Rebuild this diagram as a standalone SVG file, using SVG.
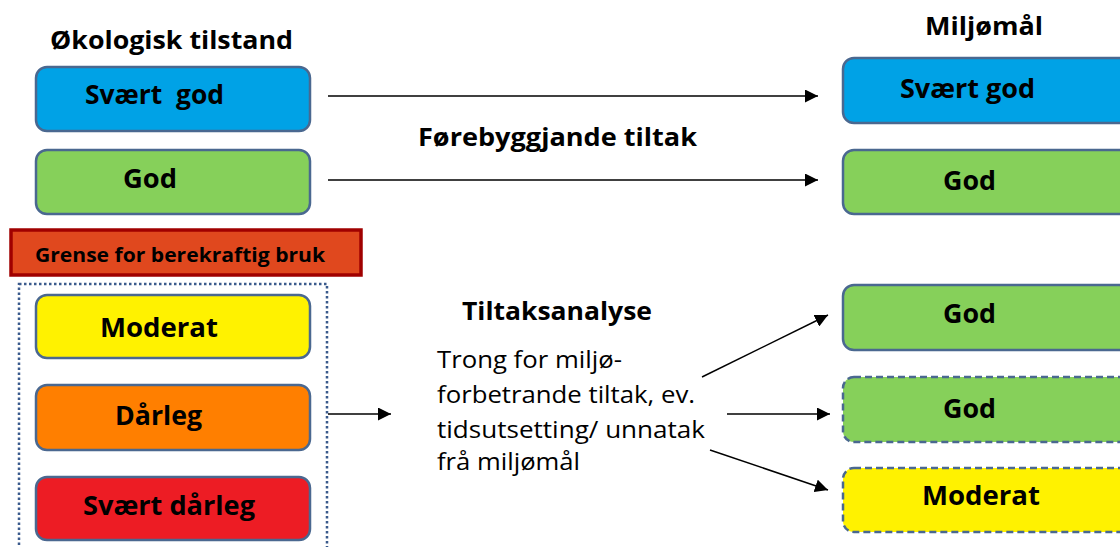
<svg xmlns="http://www.w3.org/2000/svg" width="1120" height="547" viewBox="0 0 1120 547">
<defs>
<style>
.box{stroke:#4a6890;stroke-width:2.5}
.dash{stroke-dasharray:7 4}
.blue{fill:#00a2e6}
.green{fill:#86d05a}
.yellow{fill:#fff200}
.orange{fill:#ff7f00}
.red{fill:#ed1c24}
.t{font-family:"Open Sans","Liberation Sans",sans-serif;font-weight:bold;font-size:27px;fill:#000}
.h{font-family:"Open Sans","Liberation Sans",sans-serif;font-weight:bold;font-size:25px;fill:#000}
.r{font-family:"Open Sans","Liberation Sans",sans-serif;font-size:24px;fill:#000}
.c{stroke:#000;stroke-width:1.5;fill:none;marker-end:url(#ah)}
</style>
<marker id="ah" viewBox="0 0 10 10" refX="10" refY="5" markerWidth="13" markerHeight="13" markerUnits="userSpaceOnUse" orient="auto">
<path d="M0,0 L10,5 L0,10 z" fill="#000"/>
</marker>
</defs>
<rect width="1120" height="547" fill="#fff"/>

<g id="headings">
<text class="h" x="50" y="49" textLength="243" lengthAdjust="spacingAndGlyphs">Økologisk tilstand</text>
<text class="h" x="925" y="35" textLength="118" lengthAdjust="spacingAndGlyphs">Miljømål</text>
<text class="h" x="418" y="146" textLength="279" lengthAdjust="spacingAndGlyphs">Førebyggjande tiltak</text>
</g>

<g id="left-svaert-god">
<rect class="box blue" x="36" y="67" width="274" height="64" rx="11"/>
<text class="t" x="85" y="104" textLength="139" lengthAdjust="spacingAndGlyphs" xml:space="preserve">Svært  god</text>
</g>
<g id="left-god">
<rect class="box green" x="36" y="150" width="274" height="64" rx="11"/>
<text class="t" x="123" y="188" textLength="54" lengthAdjust="spacingAndGlyphs">God</text>
</g>
<g id="grense">
<rect x="11" y="230" width="350" height="45" fill="#e0481e" stroke="#a00000" stroke-width="3.5"/>
<text x="35" y="262" font-family="Open Sans, Liberation Sans, sans-serif" font-weight="bold" font-size="20" textLength="290" lengthAdjust="spacingAndGlyphs">Grense for berekraftig bruk</text>
</g>
<g id="dotted-group">
<rect x="19" y="284" width="308" height="280" fill="none" stroke="#3a5a8c" stroke-width="2.5" stroke-dasharray="2.5 2.5"/>
</g>
<g id="left-moderat">
<rect class="box yellow" x="36" y="295" width="274" height="63" rx="11"/>
<text class="t" x="100" y="337" textLength="118" lengthAdjust="spacingAndGlyphs">Moderat</text>
</g>
<g id="left-darleg">
<rect class="box orange" x="36" y="385" width="274" height="65" rx="11"/>
<text class="t" x="115" y="425" textLength="87" lengthAdjust="spacingAndGlyphs">Dårleg</text>
</g>
<g id="left-svaert-darleg">
<rect class="box red" x="36" y="477" width="274" height="63" rx="11"/>
<text class="t" x="83" y="515" textLength="172" lengthAdjust="spacingAndGlyphs">Svært dårleg</text>
</g>

<g id="tiltaksanalyse">
<text class="h" x="462" y="320" textLength="190" lengthAdjust="spacingAndGlyphs">Tiltaksanalyse</text>
<text class="r" x="437" y="368" textLength="185" lengthAdjust="spacingAndGlyphs">Trong for miljø-</text>
<text class="r" x="437" y="403" textLength="258" lengthAdjust="spacingAndGlyphs">forbetrande tiltak, ev.</text>
<text class="r" x="437" y="438" textLength="268" lengthAdjust="spacingAndGlyphs">tidsutsetting/ unnatak</text>
<text class="r" x="437" y="470" textLength="143" lengthAdjust="spacingAndGlyphs">frå miljømål</text>
</g>

<g id="right-svaert-god">
<rect class="box blue" x="843" y="58" width="300" height="65" rx="11"/>
<text class="t" x="900" y="98" textLength="135" lengthAdjust="spacingAndGlyphs">Svært god</text>
</g>
<g id="right-god">
<rect class="box green" x="843" y="150" width="300" height="64" rx="11"/>
<text class="t" x="943" y="190" textLength="53" lengthAdjust="spacingAndGlyphs">God</text>
</g>
<g id="right-god-2">
<rect class="box green" x="843" y="285" width="300" height="65" rx="11"/>
<text class="t" x="943" y="323" textLength="53" lengthAdjust="spacingAndGlyphs">God</text>
</g>
<g id="right-god-3">
<rect class="box green dash" x="843" y="377" width="300" height="65" rx="11"/>
<text class="t" x="943" y="418" textLength="53" lengthAdjust="spacingAndGlyphs">God</text>
</g>
<g id="right-moderat">
<rect class="box yellow dash" x="843" y="468" width="300" height="64" rx="11"/>
<text class="t" x="922" y="505" textLength="118" lengthAdjust="spacingAndGlyphs">Moderat</text>
</g>

<g id="connectors">
<line class="c" x1="328" y1="96" x2="818" y2="96"/>
<line class="c" x1="328" y1="180" x2="818" y2="180"/>
<line class="c" x1="328" y1="414" x2="391" y2="414"/>
<line class="c" x1="702" y1="377" x2="828" y2="315"/>
<line class="c" x1="727" y1="414" x2="830" y2="414"/>
<line class="c" x1="710" y1="450" x2="828" y2="490"/>
</g>
</svg>
